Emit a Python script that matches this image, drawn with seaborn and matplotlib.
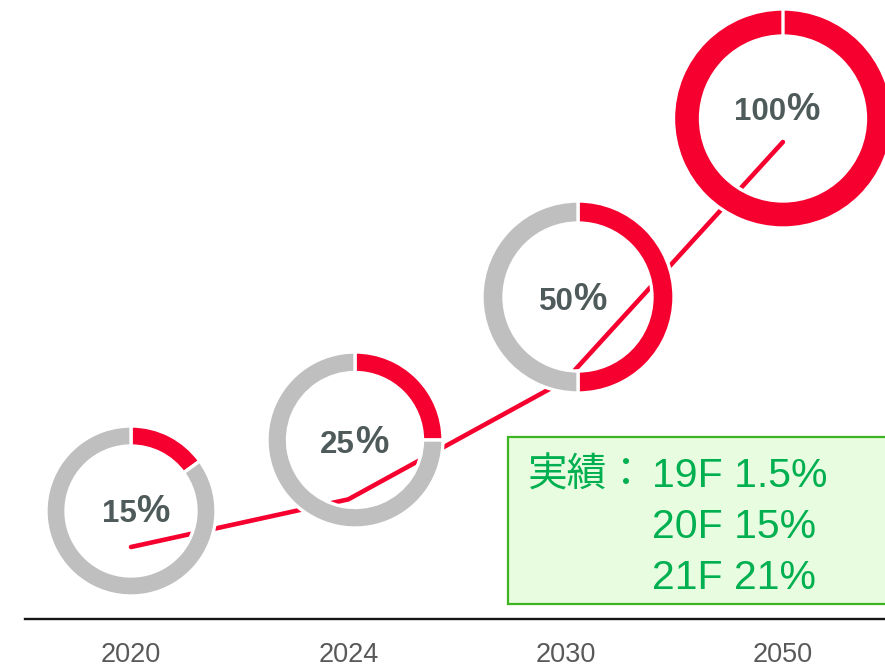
import matplotlib
matplotlib.use('Agg')
import matplotlib.pyplot as plt
import seaborn as sns
import pandas as pd
from matplotlib.patches import Rectangle

# ---- data ----
years = ['2020', '2024', '2030', '2050']
ratios = [15, 25, 50, 100]
result_title = '実績：'
result_lines = ['19F 1.5%', '20F 15%', '21F 21%']

# ---- layout (pixels, y measured from top) ----
W, H = 885, 671
donut_centers = [(131, 511), (355, 440), (578, 297), (783, 118.5)]
donut_radii = [84, 87, 95, 108.5]
donut_widths = [18, 18.5, 20, 25]
label_anchor = [(136.5, 522), (355, 453), (573.5, 310), (786.5, 119.5)]

RED = '#f5002f'
GRAY = '#bfbfbf'
LBL = '#4f5a5a'
GREEN_TXT = '#00b050'

sns.set_theme(style='white')
plt.rcParams['font.family'] = ['Liberation Sans', 'Noto Sans CJK JP', 'DejaVu Sans']

fig = plt.figure(figsize=(W / 100, H / 100), dpi=100)
fig.patch.set_facecolor('white')

axis_y_px = 618.5
px_per_cat = 217.3
x0_px = 131
px_per_val = 4.765

ax = fig.add_axes([0, (H - axis_y_px) / H, 1, axis_y_px / H])
df = pd.DataFrame({'pos': list(range(len(years))), 'ratio': ratios})
sns.lineplot(data=df, x='pos', y='ratio', ax=ax, color=RED, linewidth=3.3,
             solid_capstyle='round', solid_joinstyle='round', zorder=1)
ax.set_xlim(-x0_px / px_per_cat, (W - x0_px) / px_per_cat)
ax.set_ylim(0, axis_y_px / px_per_val)
ax.set_xticks(range(len(years)))
ax.set_xticklabels(years)
ax.set_yticks([])
ax.set_xlabel('')
ax.set_ylabel('')
for s in ['left', 'top', 'right']:
    ax.spines[s].set_visible(False)
ax.spines['bottom'].set_color('#151515')
ax.spines['bottom'].set_linewidth(1.7)
ax.spines['bottom'].set_bounds((25 - x0_px) / px_per_cat, (W - x0_px) / px_per_cat)
ax.tick_params(axis='x', length=0, pad=17, labelsize=19.5, labelcolor='#595959')
ax.patch.set_alpha(0)

# ---- donuts overlay ----
ax2 = fig.add_axes([0, 0, 1, 1], zorder=2)
ax2.patch.set_alpha(0)
for (cx, cy), r, w, v in zip(donut_centers, donut_radii, donut_widths, ratios):
    ax2.pie([v, 100 - v], center=(cx, H - cy), radius=r + 1, startangle=90,
            counterclock=False, colors=[RED, GRAY],
            wedgeprops=dict(width=w + 2, edgecolor='white', linewidth=2.4))
ax2.set_xlim(0, W)
ax2.set_ylim(0, H)
ax2.set_aspect('auto')
ax2.axis('off')

for (sx, by), v in zip(label_anchor, ratios):
    ax2.text(sx, H - by, str(v), ha='right', va='baseline', fontsize=22.5,
             fontweight='bold', color=LBL, zorder=5)
    ax2.text(sx, H - by, '%', ha='left', va='baseline', fontsize=27,
             fontweight='bold', color=LBL, zorder=5)

# ---- results box ----
ax2.add_patch(Rectangle((508, H - 604), 400, 167, facecolor='#e8fcdf',
                        edgecolor='#3cb521', linewidth=1.6, zorder=0,
                        clip_on=False))
ax2.text(528, H - 487, result_title, ha='left', va='baseline', fontsize=28.5,
         color=GREEN_TXT, family=['Noto Sans CJK JP', 'Liberation Sans'], zorder=5)
for i, line in enumerate(result_lines):
    ax2.text(652, H - (487 + 51 * i), line, ha='left', va='baseline', fontsize=29.5,
             color=GREEN_TXT, zorder=5)

fig.savefig('out.png', dpi=100)
